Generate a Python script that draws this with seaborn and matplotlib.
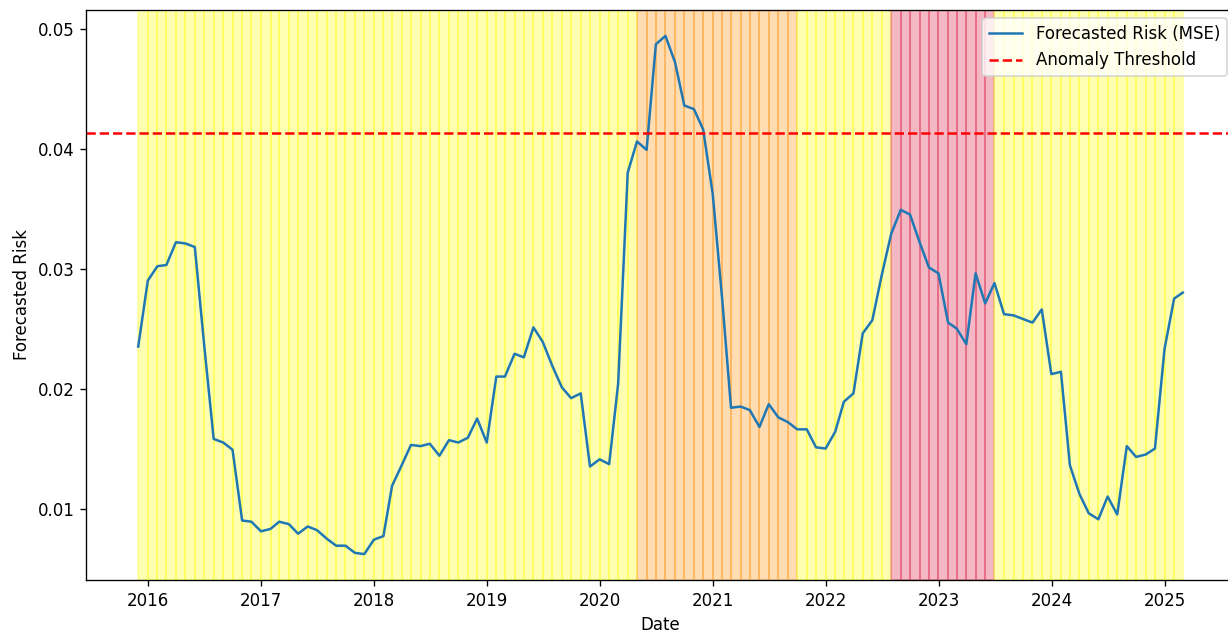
import matplotlib
matplotlib.use("Agg")
import matplotlib.pyplot as plt
import seaborn as sns
import pandas as pd

# --- Data (monthly) ---
start_month = "2015-11-30"
risk_values = [
    0.0235, 0.0290, 0.0302, 0.0303, 0.0322, 0.0321, 0.0318, 0.0237, 0.0158, 0.0155,
    0.0149, 0.0090, 0.0089, 0.0081, 0.0083, 0.0089, 0.0087, 0.0079, 0.0085, 0.0082,
    0.0075, 0.0069, 0.0069, 0.0063, 0.0062, 0.0074, 0.0077, 0.0119, 0.0136, 0.0153,
    0.0152, 0.0154, 0.0144, 0.0157, 0.0155, 0.0159, 0.0175, 0.0155, 0.0210, 0.0210,
    0.0229, 0.0226, 0.0251, 0.0239, 0.0219, 0.0201, 0.0192, 0.0196, 0.0135, 0.0141,
    0.0137, 0.0204, 0.0380, 0.0406, 0.0399, 0.0487, 0.0494, 0.0472, 0.0436, 0.0433,
    0.0416, 0.0362, 0.0273, 0.0184, 0.0185, 0.0182, 0.0168, 0.0187, 0.0176, 0.0172,
    0.0166, 0.0166, 0.0151, 0.0150, 0.0164, 0.0189, 0.0196, 0.0246, 0.0257, 0.0294,
    0.0329, 0.0349, 0.0345, 0.0322, 0.0301, 0.0296, 0.0255, 0.0250, 0.0237, 0.0296,
    0.0271, 0.0288, 0.0262, 0.0261, 0.0258, 0.0255, 0.0266, 0.0212, 0.0214, 0.0136,
    0.0112, 0.0096, 0.0091, 0.0110, 0.0095, 0.0152, 0.0143, 0.0145, 0.0150, 0.0233,
    0.0275, 0.0280,
]
anomaly_threshold = 0.0413

# risk regime per month: the regime starting at each date runs until the next one
regime_starts = ["2015-11-30", "2020-04-30", "2021-09-30", "2022-07-31", "2023-06-30"]
regime_colors = ["yellow", "darkorange", "yellow", "crimson", "yellow"]

dates = pd.date_range(start_month, periods=len(risk_values), freq="ME")
df = pd.DataFrame({"Date": dates, "Forecasted Risk": risk_values})

starts = pd.to_datetime(regime_starts)


def regime_color(d):
    idx = (starts <= d).sum() - 1
    return regime_colors[idx]


# --- Plot ---
dpi = 120
fig = plt.figure(figsize=(1228 / dpi, 632 / dpi), dpi=dpi)
ax = fig.add_axes([86 / 1228, 52 / 632, 1149 / 1228, 570 / 632])

for i in range(len(dates) - 1):
    ax.axvspan(dates[i], dates[i + 1], color=regime_color(dates[i]), alpha=0.3)

sns.lineplot(data=df, x="Date", y="Forecasted Risk", ax=ax, label="Forecasted Risk (MSE)")
ax.axhline(anomaly_threshold, color="red", linestyle="--", label="Anomaly Threshold")

ax.set_xlabel("Date")
ax.set_ylabel("Forecasted Risk")
ax.legend(loc="upper right")

fig.savefig("out.png", dpi=dpi)
